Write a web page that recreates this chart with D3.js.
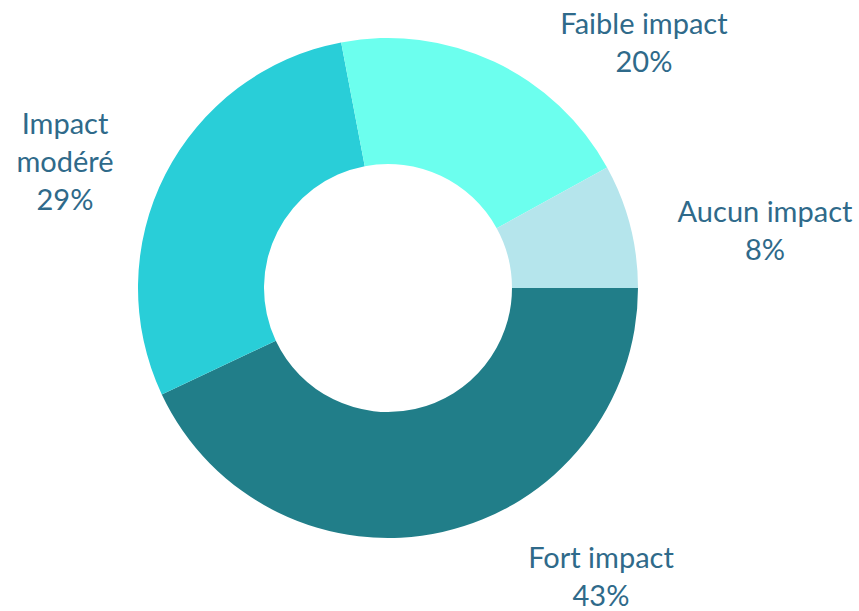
<!DOCTYPE html>
<html>
<head>
<meta charset="utf-8">
<script src="https://cdn.jsdelivr.net/npm/d3@7"></script>
<style>
  body { margin: 0; background: #fff; }
  svg { display: block; }
  .lbl { font-family: Lato, "Open Sans", sans-serif; font-size: 29px; fill: #2F6A8A; }
</style>
</head>
<body>
<svg id="chart" width="859" height="611"></svg>
<script>
// data, in drawing order (clockwise from 3 o'clock)
var categories = ["Fort impact", "Impact modéré", "Faible impact", "Aucun impact"];
var values = [43, 29, 20, 8];
var colors = ["#217E89", "#29CED8", "#6CFFEE", "#B5E5EC"];
// label lines as shown in the picture
var labelLines = [["Fort impact"], ["Impact", "modéré"], ["Faible impact"], ["Aucun impact"]];

// layout
var cx = 388, cy = 288, outerR = 250, innerR = 124;
var labelPos = [[601, 558], [65, 124], [644, 24], [765, 212]];
var lineH = 38;

var svg = d3.select("#chart");
var g = svg.append("g").attr("transform", "translate(" + cx + "," + cy + ")");

var pie = d3.pie().sort(null)
  .startAngle(Math.PI / 2).endAngle(Math.PI / 2 + 2 * Math.PI)
  .value(function(d){ return d; });
var arc = d3.arc().innerRadius(innerR).outerRadius(outerR);

var arcs = pie(values);

g.selectAll("path")
  .data(arcs)
  .enter().append("path")
  .attr("d", arc)
  .attr("fill", function(d, i){ return colors[i]; });

var labels = svg.selectAll("text.lbl")
  .data(arcs)
  .enter().append("text")
  .attr("class", "lbl")
  .attr("text-anchor", "middle");

labels.each(function(d, i){
  var t = d3.select(this);
  var lines = labelLines[i].concat([d3.format(".0f")(d.data) + "%"]);
  lines.forEach(function(s, k){
    t.append("tspan")
      .attr("x", labelPos[i][0])
      .attr("y", labelPos[i][1] + k * lineH)
      .attr("dy", "0.35em")
      .text(s);
  });
});
</script>
</body>
</html>
